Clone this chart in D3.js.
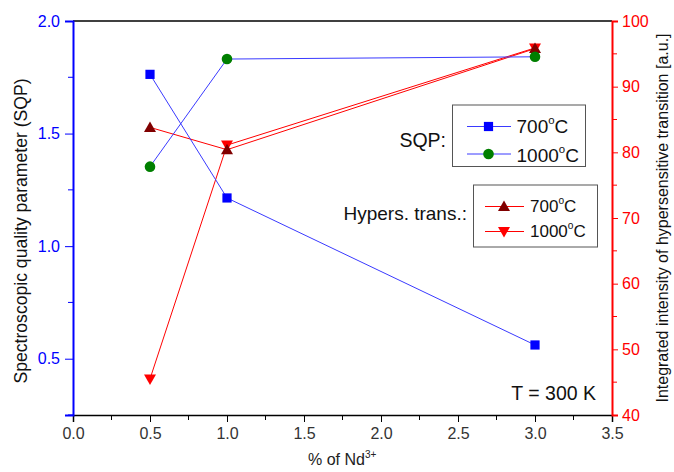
<!DOCTYPE html>
<html>
<head>
<meta charset="utf-8">
<script src="https://cdn.jsdelivr.net/npm/d3@7"></script>
<style>
  html, body { margin: 0; padding: 0; background: #fff; }
  svg { display: block; font-family: "Liberation Sans", Arial, sans-serif; }
</style>
</head>
<body>
<svg id="chart" width="674" height="472"></svg>
<script>
// Nd3+ concentration (%)
const ndPercent = [0.5, 1.0, 3.0];

// Spectroscopic quality parameter (left axis)
const sqp700 = [1.763, 1.214, 0.561];
const sqp1000 = [1.353, 1.831, 1.841];

// Integrated intensity of the hypersensitive transition (right axis)
const hyp700 = [83.8, 80.4, 95.8];
const hyp1000 = [45.5, 81.1, 95.9];

const xTicks = [0.0, 0.5, 1.0, 1.5, 2.0, 2.5, 3.0, 3.5];
const leftTicks = [0.5, 1.0, 1.5, 2.0];
const rightTicks = [40, 50, 60, 70, 80, 90, 100];

const BLUE = "#0000ff", LINE_BLUE = "#3a3aff", GREEN = "#007f00", RED = "#ff0000", DARK_RED = "#800000";
const FONT = "Liberation Sans, Arial, sans-serif";

const svg = d3.select("#chart");
const m = { left: 73, right: 612, top: 21, bottom: 415 };

const x = d3.scaleLinear().domain([0, 3.5]).range([m.left, m.right]);
const yL = d3.scaleLinear().domain([0.25, 2.0]).range([m.bottom, m.top]);
const yR = d3.scaleLinear().domain([40, 100]).range([m.bottom, m.top]);

const fmt1 = d3.format(".1f");

// Bottom axis with minor ticks
const xAxis = svg.append("g").attr("transform", `translate(0,${m.bottom})`)
  .call(d3.axisBottom(x).tickValues(xTicks).tickFormat(fmt1).tickSize(7).tickPadding(6));
xAxis.append("g").selectAll("line").data(d3.range(0.25, 3.5, 0.5)).join("line")
  .attr("x1", d => x(d)).attr("x2", d => x(d)).attr("y1", 0).attr("y2", 5).attr("stroke", "#000");
xAxis.select(".domain").attr("stroke", "#000").attr("stroke-width", 1.5);
xAxis.selectAll("text").attr("font-size", 16).attr("fill", "#333").attr("font-family", FONT);

// Top frame line
svg.append("line").attr("x1", m.left).attr("x2", m.right).attr("y1", m.top).attr("y2", m.top)
  .attr("stroke", "#000").attr("stroke-width", 1.5);

// Left axis (blue)
const yAxisL = svg.append("g").attr("transform", `translate(${m.left},0)`)
  .call(d3.axisLeft(yL).tickValues(leftTicks).tickFormat(fmt1).tickSize(8).tickPadding(5));
yAxisL.append("g").selectAll("line").data([0.25, 0.75, 1.25, 1.75]).join("line")
  .attr("x1", 0).attr("x2", -5).attr("y1", d => yL(d)).attr("y2", d => yL(d)).attr("stroke", BLUE);
yAxisL.select(".domain").attr("stroke", BLUE).attr("stroke-width", 2);
yAxisL.selectAll(".tick line").attr("stroke", BLUE);
yAxisL.selectAll("text").attr("font-size", 16).attr("fill", BLUE).attr("font-family", FONT);

// Right axis (red)
const yAxisR = svg.append("g").attr("transform", `translate(${m.right},0)`)
  .call(d3.axisRight(yR).tickValues(rightTicks).tickSize(6).tickPadding(4));
yAxisR.append("g").selectAll("line").data([45, 55, 65, 75, 85, 95]).join("line")
  .attr("x1", 0).attr("x2", 5).attr("y1", d => yR(d)).attr("y2", d => yR(d)).attr("stroke", RED);
yAxisR.select(".domain").attr("stroke", RED).attr("stroke-width", 2);
yAxisR.selectAll(".tick line").attr("stroke", RED);
yAxisR.selectAll("text").attr("font-size", 16).attr("fill", RED).attr("font-family", FONT);

// Axis titles
const xTitle = svg.append("text").attr("x", 308).attr("y", 465)
  .attr("font-size", 16).attr("fill", "#222");
xTitle.append("tspan").text("% of Nd");
xTitle.append("tspan").attr("font-size", 10).attr("dy", -7).text("3+");

svg.append("text").attr("transform", `translate(27,231) rotate(-90)`)
  .attr("text-anchor", "middle").attr("font-size", 17.6).attr("fill", "#111")
  .text("Spectroscopic quality parameter (SQP)");

svg.append("text").attr("transform", `translate(668,218) rotate(-90)`)
  .attr("text-anchor", "middle").attr("font-size", 16).attr("fill", "#111")
  .text("Integrated intensity of hypersensitive transition [a.u.]");

// Series
const series = [
  { vals: hyp1000, y: yR, line: RED, fill: RED, sym: "down" },
  { vals: hyp700, y: yR, line: RED, fill: DARK_RED, sym: "up" },
  { vals: sqp700, y: yL, line: LINE_BLUE, fill: BLUE, sym: "square" },
  { vals: sqp1000, y: yL, line: LINE_BLUE, fill: GREEN, sym: "circle" }
];

function drawSymbol(g, sym, cx, cy, fill) {
  if (sym === "square") {
    g.append("rect").attr("x", cx - 4.6).attr("y", cy - 4.6).attr("width", 9.2).attr("height", 9.2).attr("fill", fill);
  } else if (sym === "circle") {
    g.append("circle").attr("cx", cx).attr("cy", cy).attr("r", 5.3).attr("fill", fill);
  } else if (sym === "up") {
    g.append("path").attr("d", `M${cx},${cy - 6}L${cx + 6},${cy + 4.5}L${cx - 6},${cy + 4.5}Z`).attr("fill", fill);
  } else {
    g.append("path").attr("d", `M${cx},${cy + 6}L${cx + 6},${cy - 4.5}L${cx - 6},${cy - 4.5}Z`).attr("fill", fill);
  }
}

const plot = svg.append("g");
series.forEach(s => {
  const pts = ndPercent.map((v, i) => [x(v), s.y(s.vals[i])]);
  plot.append("path").attr("d", d3.line()(pts)).attr("fill", "none").attr("stroke", s.line).attr("stroke-width", 1);
});
series.forEach(s => {
  ndPercent.forEach((v, i) => drawSymbol(plot, s.sym, x(v), s.y(s.vals[i]), s.fill));
});

// Legends
function degLabel(g, tx, ty, n, size) {
  const t = g.append("text").attr("x", tx).attr("y", ty).attr("font-size", size).attr("fill", "#111");
  t.append("tspan").text(n);
  t.append("tspan").attr("font-size", size * 0.6).attr("dy", -size * 0.45).text("o");
  t.append("tspan").attr("dy", size * 0.45).text("C");
}

const lg1 = svg.append("g");
lg1.append("rect").attr("x", 452.5).attr("y", 105).attr("width", 133).attr("height", 61.5)
  .attr("fill", "#fff").attr("stroke", "#555").attr("stroke-width", 1);
[["square", BLUE, "700", 126.5, 132.5], ["circle", GREEN, "1000", 154, 161.5]].forEach(([sym, fill, lbl, ly, by]) => {
  lg1.append("line").attr("x1", 467).attr("x2", 511).attr("y1", ly).attr("y2", ly).attr("stroke", LINE_BLUE);
  drawSymbol(lg1, sym, 488.5, ly, fill);
  degLabel(lg1, 516.5, by, lbl, 19);
});
svg.append("text").attr("x", 446).attr("y", 146.5).attr("text-anchor", "end")
  .attr("font-size", 19.5).attr("fill", "#111").text("SQP:");

const lg2 = svg.append("g");
lg2.append("rect").attr("x", 473.5).attr("y", 185).attr("width", 124).attr("height", 62)
  .attr("fill", "#fff").attr("stroke", "#555").attr("stroke-width", 1);
[["up", DARK_RED, "700", 206.5, 211.5], ["down", RED, "1000", 231.5, 236.5]].forEach(([sym, fill, lbl, ly, by]) => {
  lg2.append("line").attr("x1", 485).attr("x2", 524).attr("y1", ly).attr("y2", ly).attr("stroke", RED);
  drawSymbol(lg2, sym, 504, ly, fill);
  degLabel(lg2, 530, by, lbl, 17);
});
svg.append("text").attr("x", 467).attr("y", 220).attr("text-anchor", "end")
  .attr("font-size", 19).attr("fill", "#111").text("Hypers. trans.:");

svg.append("text").attr("x", 596).attr("y", 400).attr("text-anchor", "end")
  .attr("font-size", 19.5).attr("fill", "#111").text("T = 300 K");
</script>
</body>
</html>
